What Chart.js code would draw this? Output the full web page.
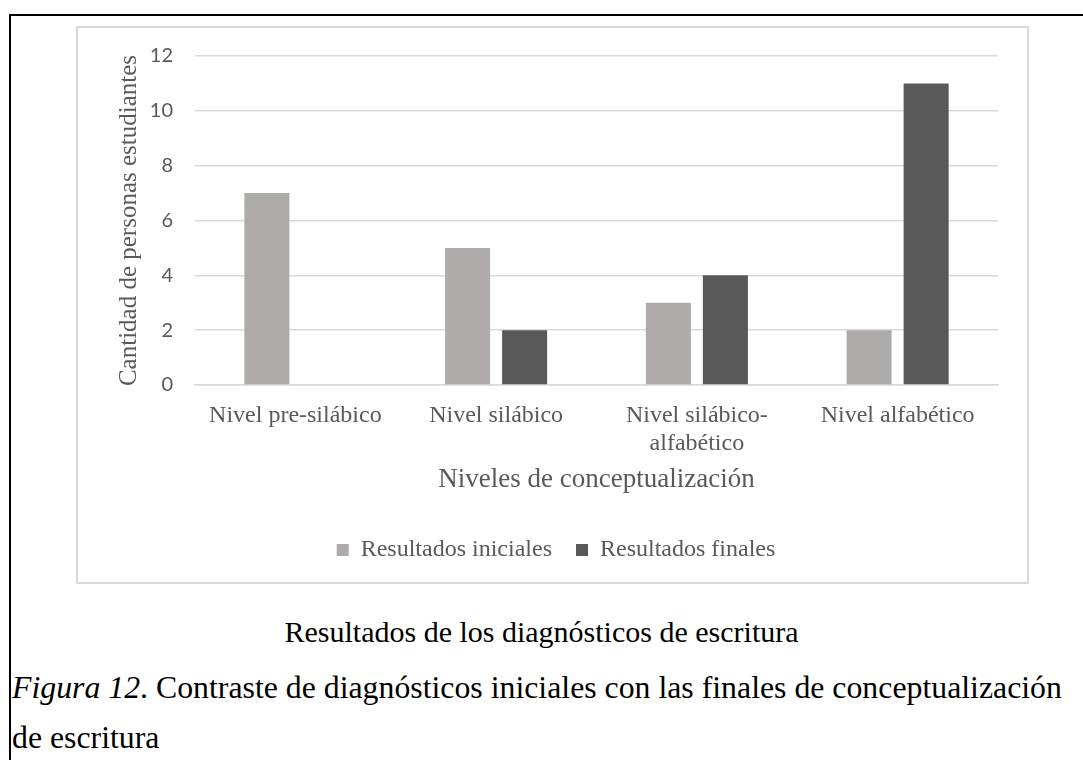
<!DOCTYPE html>
<html>
<head>
<meta charset="utf-8">
<script src="https://cdn.jsdelivr.net/npm/chart.js@4.4.1/dist/chart.umd.min.js"></script>
<style>
  html, body { margin: 0; padding: 0; background: #fff; }
  body { width: 1083px; height: 760px; overflow: hidden; position: relative; font-family: "Liberation Serif", "Times New Roman", serif; }
  #marco { position: absolute; left: 9px; top: 14px; width: 1120px; height: 800px; border: 2px solid #000; box-sizing: border-box; }
  #caja { position: absolute; left: 76px; top: 26px; width: 953px; height: 558px; border: 2px solid #d9d9d9; box-sizing: border-box; }
  #caja canvas { display: block; }
  #titulo { position: absolute; left: 0; width: 1083px; top: 615px; text-align: center; font-size: 30px; line-height: 34px; color: #000; }
  #pie { position: absolute; left: 12px; top: 663px; width: 1060px; font-size: 31.8px; line-height: 50px; color: #000; }
</style>
</head>
<body>
<div id="marco"></div>
<div id="caja"><canvas id="grafico" width="949" height="554"></canvas></div>
<div id="titulo">Resultados de los diagnósticos de escritura</div>
<div id="pie"><i>Figura 12</i>. Contraste de diagnósticos iniciales con las finales de conceptualización de escritura</div>
<script>
const categorias = ['Nivel pre-silábico', 'Nivel silábico', ['Nivel silábico-', 'alfabético'], 'Nivel alfabético'];
const iniciales = [7, 5, 3, 2];
const finales = [0, 2, 4, 11];
const ticksY = [0, 2, 4, 6, 8, 10, 12];

const GRIS = { claro: '#aeaaaa', oscuro: '#595959', linea: '#d9d9d9', texto: '#595959' };
const SERIF = '"Liberation Serif", "Times New Roman", serif';

new Chart(document.getElementById('grafico'), {
    type: 'bar',
    data: {
        labels: categorias,
        datasets: [
            { label: 'Resultados iniciales', data: iniciales, backgroundColor: GRIS.claro, categoryPercentage: 0.568, barPercentage: 0.79 },
            { label: 'Resultados finales', data: finales, backgroundColor: GRIS.oscuro, categoryPercentage: 0.568, barPercentage: 0.79 }
        ]
    },
    options: {
        responsive: false,
        animation: false,
        layout: { padding: { left: 36, right: 29, top: 28, bottom: 10 } },
        plugins: {
            tooltip: { enabled: false },
            legend: {
                position: 'bottom',
                labels: { color: GRIS.texto, font: { family: SERIF, size: 24 }, boxWidth: 12, boxHeight: 12, padding: 24 }
            }
        },
        scales: {
            x: {
                afterFit: (s) => { s.height = 129; },
                grid: { display: false },
                border: { color: GRIS.linea, width: 1.5 },
                ticks: { color: GRIS.texto, font: { family: SERIF, size: 24, lineHeight: 1.17 }, padding: 9, maxRotation: 0, autoSkip: false },
                title: { display: true, text: 'Niveles de conceptualización', color: GRIS.texto, font: { family: SERIF, size: 27 }, padding: { top: 6, bottom: 18 } }
            },
            y: {
                min: 0,
                max: 12,
                afterBuildTicks: (s) => { s.ticks = ticksY.map(v => ({ value: v })); },
                afterFit: (s) => { s.width = 81; },
                // marcas invisibles: separan las etiquetas sin agrandar el margen superior
                grid: { color: GRIS.linea, lineWidth: 1.5, drawTicks: true, tickLength: 22, tickColor: 'rgba(0,0,0,0)' },
                border: { display: false },
                ticks: { color: GRIS.texto, font: { family: 'Lato', size: 20 }, padding: 0 },
                title: { display: true, text: 'Cantidad de personas estudiantes', color: GRIS.texto, font: { family: SERIF, size: 25 }, padding: { top: 0, bottom: 0 } }
            }
        }
    }
});
</script>
</body>
</html>
